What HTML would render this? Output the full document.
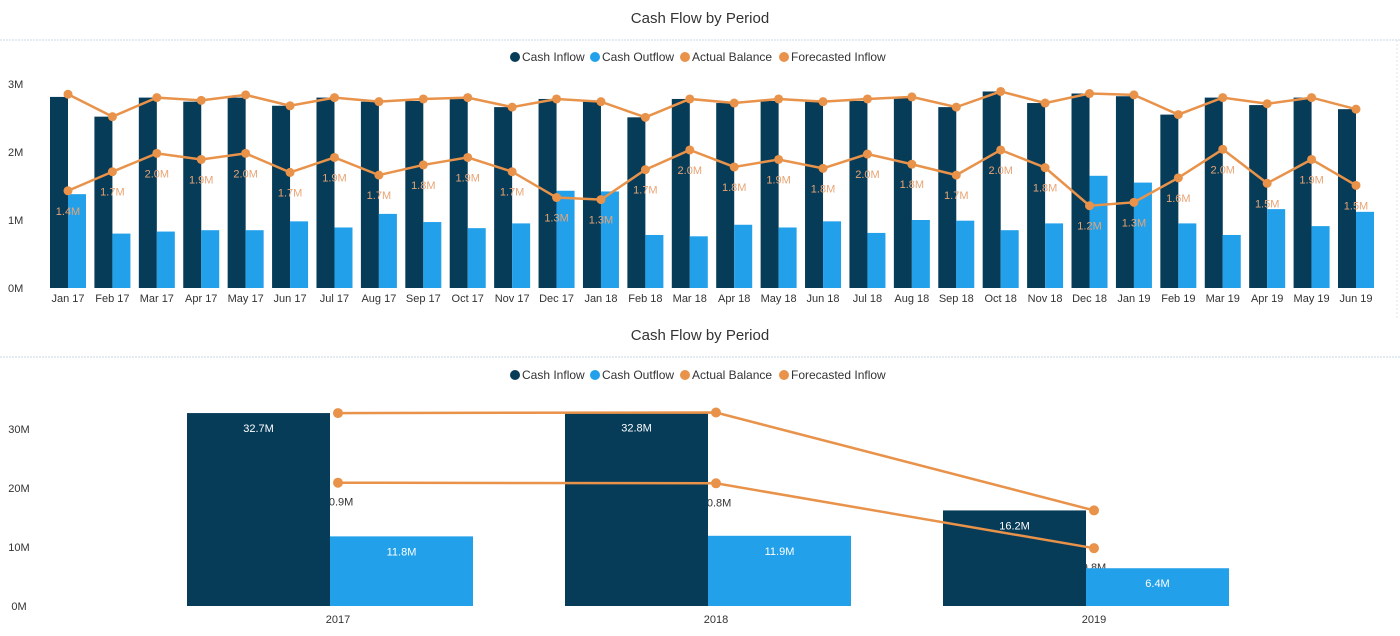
<!DOCTYPE html>
<html><head><meta charset="utf-8"><style>
html,body{margin:0;padding:0;background:#fff;width:1400px;height:636px;overflow:hidden}
svg text{font-family:"Liberation Sans",sans-serif}
</style></head><body>
<svg id="chart" width="1400" height="636" xmlns="http://www.w3.org/2000/svg">
<text x="700" y="23" text-anchor="middle" font-size="15" fill="#333">Cash Flow by Period</text>
<line x1="0" y1="40" x2="1400" y2="40" stroke="#c8d8e4" stroke-dasharray="2,1"/>
<line x1="1397" y1="40" x2="1397" y2="318" stroke="#d8e4ec" stroke-dasharray="2,2"/>
<text x="700" y="340" text-anchor="middle" font-size="15" fill="#333">Cash Flow by Period</text>
<line x1="0" y1="357" x2="1400" y2="357" stroke="#c8d8e4" stroke-dasharray="2,1"/>
<g id="top"></g>
<g id="bottom"></g>
</svg>
<script>
const months = ["Jan 17","Feb 17","Mar 17","Apr 17","May 17","Jun 17","Jul 17","Aug 17","Sep 17","Oct 17","Nov 17","Dec 17","Jan 18","Feb 18","Mar 18","Apr 18","May 18","Jun 18","Jul 18","Aug 18","Sep 18","Oct 18","Nov 18","Dec 18","Jan 19","Feb 19","Mar 19","Apr 19","May 19","Jun 19"];
const monthlyInflow = [2.81,2.52,2.80,2.74,2.80,2.68,2.80,2.74,2.75,2.78,2.66,2.78,2.74,2.51,2.78,2.72,2.75,2.74,2.75,2.80,2.66,2.89,2.72,2.86,2.82,2.55,2.80,2.69,2.80,2.63];
const monthlyOutflow = [1.38,0.80,0.83,0.85,0.85,0.98,0.89,1.09,0.97,0.88,0.95,1.43,1.42,0.78,0.76,0.93,0.89,0.98,0.81,1.00,0.99,0.85,0.95,1.65,1.55,0.95,0.78,1.16,0.91,1.12];
const monthlyBalance = [2.85,2.52,2.80,2.76,2.84,2.68,2.80,2.74,2.78,2.80,2.66,2.78,2.74,2.51,2.78,2.72,2.78,2.74,2.78,2.81,2.66,2.89,2.72,2.86,2.84,2.55,2.80,2.71,2.80,2.63];
const monthlyForecast = [1.43,1.71,1.98,1.89,1.98,1.70,1.92,1.66,1.81,1.92,1.71,1.33,1.30,1.74,2.03,1.78,1.89,1.76,1.97,1.82,1.66,2.03,1.77,1.21,1.26,1.62,2.04,1.54,1.89,1.51];
const topTicks = [0,1,2,3];

const years = ["2017","2018","2019"];
const yearInflow = [32.7,32.8,16.2];
const yearOutflow = [11.8,11.9,6.4];
const yearBalance = [32.7,32.8,16.2];
const yearForecast = [20.9,20.8,9.8];
const bottomTicks = [0,10,20,30];

const NS="http://www.w3.org/2000/svg";
const C_IN="#073c58", C_OUT="#22a0ea", C_OR="#e8924a";
function mk(tag,attrs,parent,txt){const e=document.createElementNS(NS,tag);for(const k in attrs)e.setAttribute(k,attrs[k]);if(txt!==undefined)e.textContent=txt;parent.appendChild(e);return e;}

function legend(g,y){
  const items=[["Cash Inflow",C_IN,515],["Cash Outflow",C_OUT,595],["Actual Balance",C_OR,685],["Forecasted Inflow",C_OR,784]];
  items.forEach(it=>{
    const c=mk("circle",{cx:it[2],cy:y,r:5,fill:it[1]},g);
    
    
    const t=mk("text",{x:it[2]+7,y:y+4,"font-size":12,fill:"#333"},g,it[0]);
    
    
  });
}

// Top chart
(function(){
  const g=document.getElementById("top");
  const y0=288, pxPer=68, x0=68, step=(1356-68)/29, bw=18;
  const Y=v=>y0-v*pxPer, X=i=>x0+i*step;
  legend(g,57);
  topTicks.forEach(t=>{
    const e=mk("text",{x:8,y:Y(t)+4,"font-size":11,fill:"#333"},g,t+"M");
    
    
  });
  months.forEach((m,i)=>{
    const e=mk("text",{x:X(i),y:302,"font-size":11,"text-anchor":"middle",fill:"#333"},g,m);
    
    
    const a=mk("rect",{x:X(i)-bw,y:Y(monthlyInflow[i]),width:bw,height:monthlyInflow[i]*pxPer,fill:C_IN},g);
    
    
    const b=mk("rect",{x:X(i),y:Y(monthlyOutflow[i]),width:bw,height:monthlyOutflow[i]*pxPer,fill:C_OUT},g);
    
    
  });
  [monthlyBalance,monthlyForecast].forEach((arr,k)=>{
    const p=mk("polyline",{points:arr.map((v,i)=>X(i)+","+Y(v)).join(" "),fill:"none",stroke:C_OR,"stroke-width":2.5},g);
    
    
    arr.forEach((v,i)=>{
      const c=mk("circle",{cx:X(i),cy:Y(v),r:4.5,fill:C_OR},g);
      
      
      if(k===1){
        const t=mk("text",{x:X(i),y:Y(v)+24,"font-size":11,"text-anchor":"middle",fill:"#e8a474"},g,v.toFixed(1)+"M");
        
        
      }
    });
  });
})();

// Bottom chart
(function(){
  const g=document.getElementById("bottom");
  const y0=606, pxPer=5.9, x0=338, step=378, bw=143;
  const Y=v=>y0-v*pxPer, X=i=>x0+i*step;
  legend(g,375);
  bottomTicks.forEach(t=>{
    const e=mk("text",{x:19,y:Y(t)+4,"font-size":11,"text-anchor":"middle",fill:"#333"},g,t+"M");
    
    
  });
  years.forEach((yr,i)=>{
    const e=mk("text",{x:X(i),y:623,"font-size":11,"text-anchor":"middle",fill:"#333"},g,yr);
    
    
    const l=mk("text",{x:X(i),y:Y(yearForecast[i])+23,"font-size":11,"text-anchor":"middle",fill:"#333"},g,yearForecast[i].toFixed(1)+"M");
    
    
  });
  years.forEach((yr,i)=>{
    const a=mk("rect",{x:X(i)-bw-8,y:Y(yearInflow[i]),width:bw,height:yearInflow[i]*pxPer,fill:C_IN},g);
    
    
    const at=mk("text",{x:X(i)-8-bw/2,y:Y(yearInflow[i])+19,"font-size":11,"text-anchor":"middle",fill:"#fff"},g,yearInflow[i].toFixed(1)+"M");
    
    
    const b=mk("rect",{x:X(i)-8,y:Y(yearOutflow[i]),width:bw,height:yearOutflow[i]*pxPer,fill:C_OUT},g);
    
    
    const bt=mk("text",{x:X(i)-8+bw/2,y:Y(yearOutflow[i])+19,"font-size":11,"text-anchor":"middle",fill:"#fff"},g,yearOutflow[i].toFixed(1)+"M");
    
    
  });
  [yearBalance,yearForecast].forEach((arr,k)=>{
    const p=mk("polyline",{points:arr.map((v,i)=>X(i)+","+Y(v)).join(" "),fill:"none",stroke:C_OR,"stroke-width":2.5},g);
    
    
    arr.forEach((v,i)=>{
      const c=mk("circle",{cx:X(i),cy:Y(v),r:5,fill:C_OR},g);
      
      
    });
  });
})();
</script>
</body></html>
